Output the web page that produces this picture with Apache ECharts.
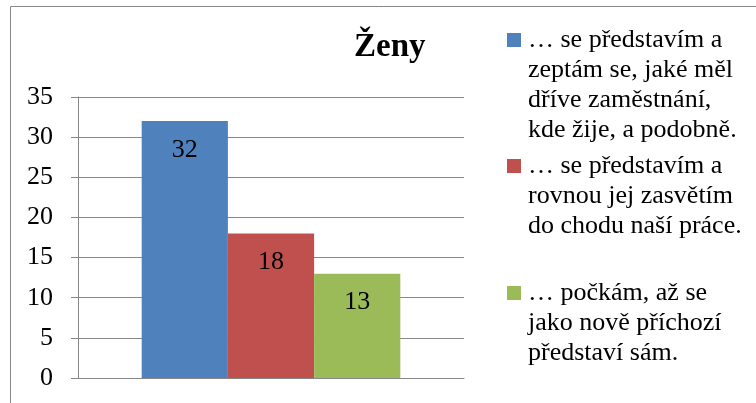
<!DOCTYPE html>
<html>
<head>
<meta charset="utf-8">
<script src="https://cdn.jsdelivr.net/npm/echarts@6/dist/echarts.min.js"></script>
<style>
  html, body { margin: 0; padding: 0; background: #fff; }
  #chart { width: 756px; height: 403px; }
</style>
</head>
<body>
<div id="chart"></div>
<script>
var categories = [''];
var seriesNames = [
    '… se představím a zeptám se, jaké měl dříve zaměstnání, kde žije, a podobně.',
    '… se představím a rovnou jej zasvětím do chodu naší práce.',
    '… počkám, až se jako nově příchozí představí sám.'
];
// legend text wrapped like in the original
var legendLines = [
    ['… se představím a', 'zeptám se, jaké měl', 'dříve zaměstnání,', 'kde žije, a podobně.'],
    ['… se představím a', 'rovnou jej zasvětím', 'do chodu naší práce.'],
    ['… počkám, až se', 'jako nově příchozí', 'představí sám.']
];
var values = [32, 18, 13];
var colors = ['#4F81BD', '#C0504D', '#9BBB59'];
var yTicks = { min: 0, max: 35, interval: 5 };

var serif = "'Liberation Serif', 'Times New Roman', serif";
var gray = '#878787';

var chart = echarts.init(document.getElementById('chart'));

var legendTops = [27, 153, 280];
var rich = {
    p: { width: 14 },
    t: { fontFamily: serif, fontSize: 26, lineHeight: 30, color: '#000', padding: [0, 0, 0, 7] }
};
colors.forEach(function (c, i) {
    rich['s' + i] = { width: 14, height: 14, backgroundColor: c };
});

var legends = seriesNames.map(function (name, i) {
    return {
        data: [name],
        left: 502,
        top: legendTops[i],
        padding: 0,
        itemWidth: 0,
        itemHeight: 0,
        selectedMode: false,
        formatter: function () {
            return legendLines[i].map(function (line, j) {
                return (j === 0 ? '{s' + i + '|}' : '{p|}') + '{t|' + line + '}';
            }).join('\n');
        },
        textStyle: { rich: rich }
    };
});

var series = seriesNames.map(function (name, i) {
    return {
        name: name,
        type: 'bar',
        data: [values[i]],
        barGap: '0%',
        barCategoryGap: '33%',
        itemStyle: { color: colors[i] },
        label: {
            show: true,
            position: 'insideTop',
            distance: 16,
            fontFamily: serif,
            fontSize: 26,
            color: '#000'
        }
    };
});

chart.setOption({
    animation: false,
    backgroundColor: '#fff',
    title: {
        text: 'Ženy',
        left: 354,
        top: 31,
        padding: 0,
        textStyle: { fontFamily: serif, fontSize: 33, fontWeight: 'bold', color: '#000' }
    },
    graphic: [{
        type: 'rect',
        shape: { x: 10.5, y: 6.5, width: 800, height: 450 },
        style: { fill: 'none', stroke: gray, lineWidth: 1 },
        silent: true
    }],
    legend: legends,
    grid: { left: 78, right: 292, top: 97, bottom: 25 },
    xAxis: {
        type: 'category',
        data: categories,
        axisLine: { show: true, lineStyle: { color: gray } },
        axisTick: { show: false },
        axisLabel: { show: false }
    },
    yAxis: {
        type: 'value',
        min: yTicks.min,
        max: yTicks.max,
        interval: yTicks.interval,
        axisLine: { show: true, lineStyle: { color: gray } },
        axisTick: { show: true, length: 7, lineStyle: { color: gray } },
        axisLabel: { fontFamily: serif, fontSize: 26, color: '#000', margin: 25 },
        splitLine: { lineStyle: { color: gray } }
    },
    series: series
});
</script>
</body>
</html>
